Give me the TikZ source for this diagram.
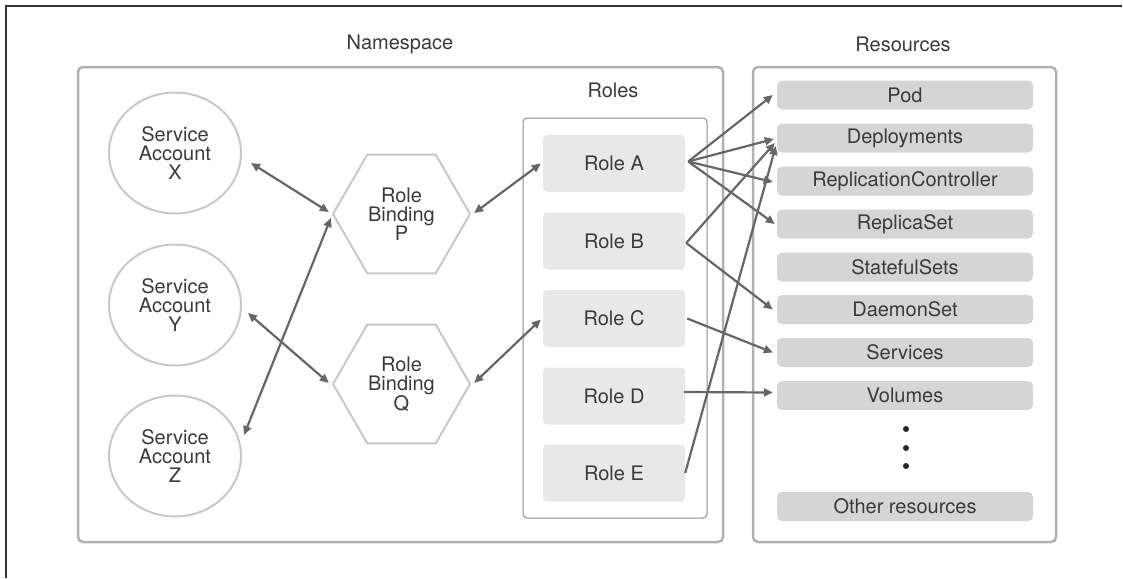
\documentclass[tikz,border=0pt]{standalone}
\usepackage{fontspec}
\setmainfont{TeX Gyre Heros}
\usetikzlibrary{arrows.meta,shapes.geometric,calc}
\definecolor{txt}{HTML}{3A3A3A}
\definecolor{arrc}{HTML}{666668}
\definecolor{shapeline}{HTML}{C8C8C8}
\definecolor{boxline}{HTML}{B0B0B2}
\definecolor{rolefill}{HTML}{E8E8E9}
\definecolor{resfill}{HTML}{D5D5D6}
\begin{document}
\begin{tikzpicture}[x=1pt,y=-1pt,
  every node/.style={text=txt,font=\fontsize{20}{19}\selectfont},
  sa/.style={ellipse,draw=shapeline,line width=2pt,minimum width=132pt,minimum height=121pt,inner sep=0pt,align=center},
  hex/.style={regular polygon,regular polygon sides=6,draw=shapeline,line width=2pt,minimum size=137pt,inner sep=0pt,align=center},
  rolebox/.style={rectangle,fill=rolefill,rounded corners=4pt,minimum width=142pt,minimum height=57pt,inner sep=0pt},
  resbox/.style={rectangle,fill=resfill,rounded corners=5pt,minimum width=256pt,minimum height=29pt,inner sep=0pt},
  frame/.style={draw=boxline,line width=2.5pt,rounded corners=5pt},
  arr/.style={draw=arrc,line width=2.2pt,-{Triangle[length=9pt,width=8pt]}},
  barr/.style={draw=arrc,line width=2.2pt,{Triangle[length=9pt,width=8pt]}-{Triangle[length=9pt,width=8pt]}},
  lbl/.style={inner sep=0pt}
]
\useasboundingbox (0,0) rectangle (1123,578);
% outer frame (top and left edges)
\draw[draw=black!80,line width=1.5pt] (1122,6) -- (6,6) -- (6,578);

% containers
\draw[frame] (78,67) rectangle (723,542);
\draw[frame] (753,67) rectangle (1056,542);
\draw[draw=black!45,line width=1pt,rounded corners=4pt] (523,118) rectangle (707,518);

\node[lbl] (nsl) at (400,44) {Namespace};
\node[lbl] (rsl) at (903,44) {Resources};
\node[lbl] (rll) at (613,90) {Roles};

% service accounts
\node[sa] (X) at (175,153) {Service\\Account\\X};
\node[sa] (Y) at (175,305) {Service\\Account\\Y};
\node[sa] (Z) at (175,456) {Service\\Account\\Z};

% role bindings
\node[hex] (P) at (401.5,214) {Role\\Binding\\P};
\node[hex] (Q) at (401.5,384) {Role\\Binding\\Q};

% roles
\node[rolebox] (RA) at (614,163.5) {Role A};
\node[rolebox] (RB) at (614,241) {Role B};
\node[rolebox] (RC) at (614,318.5) {Role C};
\node[rolebox] (RD) at (614,396) {Role D};
\node[rolebox] (RE) at (614,473) {Role E};

% resources
\node[resbox] (pod) at (905,95) {Pod};
\node[resbox] (dep) at (905,138) {Deployments};
\node[resbox] (rc)  at (905,181) {ReplicationController};
\node[resbox] (rs)  at (905,224) {ReplicaSet};
\node[resbox] (ss)  at (905,267) {StatefulSets};
\node[resbox] (ds)  at (905,309.5) {DaemonSet};
\node[resbox] (svc) at (905,352.5) {Services};
\node[resbox] (vol) at (905,395.5) {Volumes};
\node[resbox] (oth) at (905,506.5) {Other resources};

\fill[black!85] (906,429) circle (3pt);
\fill[black!85] (906,448) circle (3pt);
\fill[black!85] (906,466) circle (3pt);

% connectors: service accounts <-> bindings
\draw[barr] ($(X.east)+(9,10)$) -- ($(P.west)+(-3,-2)$);
\draw[barr] ($(Z.east)+(2,-21)$) -- ($(P.west)+(-1,4)$);
\draw[barr] ($(Y.east)+(6,8)$) -- ($(Q.west)+(-3,-1)$);

% bindings <-> roles
\draw[barr] ($(P.east)+(3,-1)$) -- ($(RA.west)+(-2,0)$);
\draw[barr] ($(Q.east)+(3,-1)$) -- ($(RC.west)+(-2,1)$);

% roles -> resources
\draw[arr] ($(RA.east)+(3,-2)$) -- ($(pod.west)+(-4,0)$);
\draw[arr] ($(RA.east)+(3,-2)$) -- ($(dep.west)+(-3,1)$);
\draw[arr] ($(RA.east)+(3,-2)$) -- ($(rc.west)+(-4,1)$);
\draw[arr] ($(RA.east)+(3,-2)$) -- ($(rs.west)+(-2,0)$);
\draw[arr] ($(RB.east)+(1,2)$) -- ($(dep.west)+(-2,5)$);
\draw[arr] ($(RB.east)+(1,2)$) -- ($(ds.west)+(-4,0)$);
\draw[arr] ($(RC.east)+(2,0)$) -- ($(svc.west)+(-4,0)$);
\draw[arr] ($(RD.east)+(-1,-4)$) -- ($(vol.west)+(-4,-3)$);
\draw[arr] ($(RE.east)+(0,0)$) -- ($(dep.west)+(-1,8)$);
\end{tikzpicture}
\end{document}
